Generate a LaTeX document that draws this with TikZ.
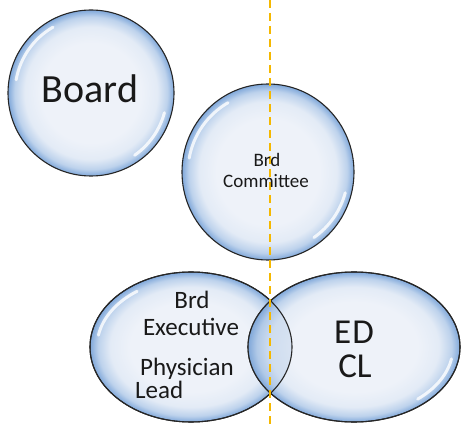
\documentclass[tikz,border=0pt]{standalone}
\usepackage{fontspec}
\setmainfont{Carlito}
\definecolor{bA}{HTML}{EEF2F9}
\definecolor{bB}{HTML}{E3EBF6}
\definecolor{bC}{HTML}{BDD2EC}
\definecolor{bD}{HTML}{80A8DA}
\definecolor{lensblue}{HTML}{7FA6D6}
\definecolor{dashgold}{HTML}{F5B800}
\pgfdeclareradialshading{bubble}{\pgfpoint{0bp}{0bp}}{color(0bp)=(bA); color(15bp)=(bA); color(20bp)=(bB); color(23bp)=(bC); color(25bp)=(bD); color(50bp)=(bD)}
\tikzset{
  bubble/.style={shading=bubble, draw=black!85, line width=1.1pt},
  rim/.style={draw=black!85, line width=1.1pt},
  shine/.style={draw=white, line width=3pt, opacity=0.8, line cap=round},
  guide/.style={draw=dashgold, line width=1.4pt, dash pattern=on 8pt off 5pt},
  lbl/.style={inner sep=0pt, text=black!90},
}
\begin{document}
\begin{tikzpicture}[x=1pt,y=-1pt]
\useasboundingbox (0,0) rectangle (461,425);
\fill[white] (0,0) rectangle (461,425);
\begin{scope}
\clip (0,0) rectangle (461,425);
% Board
\path[bubble] (91,93) circle [radius=83pt];
\draw[shine] (91,93) ++(120:76pt) arc[start angle=120, end angle=170, radius=76pt];
\draw[shine] (91,93) ++(-15:76pt) arc[start angle=-15, end angle=-55, radius=76pt];
% Committee
\path[bubble] (268,172) ellipse [x radius=86pt, y radius=88pt];
\draw[shine] (268,172) ++(120:80pt) arc[start angle=120, end angle=170, radius=80pt];
\draw[shine] (268,172) ++(-15:80pt) arc[start angle=-15, end angle=-55, radius=80pt];
% lower ellipses
\path[bubble] (191,347) ellipse [x radius=101pt, y radius=75pt];
\draw[shine] (191,347) ++(125:94pt and 68pt) arc[start angle=125, end angle=170, x radius=94pt, y radius=68pt];
\path[bubble] (354,347) ellipse [x radius=106pt, y radius=75pt];
\draw[shine] (354,347) ++(-10:99pt and 68pt) arc[start angle=-10, end angle=-50, x radius=99pt, y radius=68pt];
\begin{scope}
\clip (191,347) ellipse [x radius=101pt, y radius=75pt];
\shade[shading=bubble, opacity=0.55] (354,347) ellipse [x radius=106pt, y radius=75pt];
\fill[lensblue, opacity=0.2] (354,347) ellipse [x radius=106pt, y radius=75pt];
\end{scope}
\draw[rim] (191,347) ellipse [x radius=101pt, y radius=75pt];
\draw[rim] (354,347) ellipse [x radius=106pt, y radius=75pt];
\end{scope}
% guide line
\coordinate (gtop) at (270,0);
\coordinate (gbot) at (270,425);
\draw[guide] (gtop) -- (gbot);
% labels
\node[lbl, anchor=base] (board) at (90,103) {\fontsize{40}{40}\selectfont Board};
\node[lbl, anchor=base] (cbrd) at (267,167) {\fontsize{19}{19}\selectfont Brd};
\node[lbl, anchor=base] (ccom) at (266,188) {\fontsize{19}{19}\selectfont Committee};
\node[lbl, anchor=base] (ebrd) at (192,308) {\fontsize{25}{25}\selectfont Brd};
\node[lbl, anchor=base] (eexe) at (191,335) {\fontsize{25}{25}\selectfont Executive};
\node[lbl, anchor=base west] (ephy) at (140,375) {\fontsize{25}{25}\selectfont Physician};
\node[lbl, anchor=base west] (elead) at (135,398) {\fontsize{25}{25}\selectfont Lead};
\node[lbl, anchor=base] (ed) at (354,343) {\fontsize{35}{35}\selectfont E\kern1pt D};
\node[lbl, anchor=base] (cl) at (355,377) {\fontsize{35}{35}\selectfont CL};
\end{tikzpicture}
\end{document}
